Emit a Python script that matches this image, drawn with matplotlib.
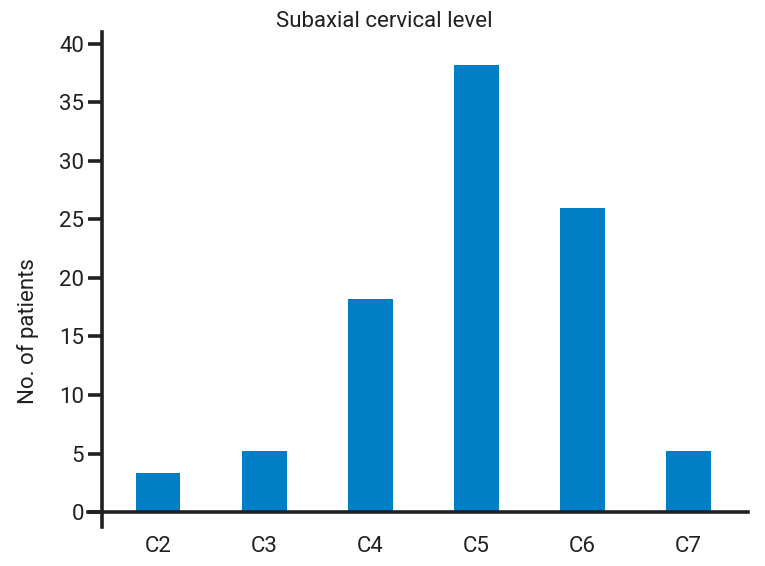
import matplotlib
matplotlib.use("Agg")
import matplotlib.pyplot as plt

levels = ["C2", "C3", "C4", "C5", "C6", "C7"]
patients = [3.3, 5.2, 18.2, 38.2, 26.0, 5.2]
yticks = [0, 5, 10, 15, 20, 25, 30, 35, 40]

plt.rcParams["font.family"] = ["Roboto", "DejaVu Sans"]

ink = "#231f20"
blue = "#007fc6"

fig = plt.figure(figsize=(7.65, 5.66), dpi=100)
ax = fig.add_axes([0.1333, 0.0685, 0.8445, 0.8745])

x = range(len(levels))
ax.bar(x, patients, width=0.42, color=blue, zorder=2)

ax.set_xlim(-0.53, 5.56)
ax.set_ylim(-1.3, 41)
ax.set_yticks(yticks)
ax.set_xticks(list(x))
ax.set_xticklabels(levels)

for s in ["top", "right"]:
    ax.spines[s].set_visible(False)
# x axis sits at zero and pokes out left of the y axis
ax.spines["bottom"].set_position(("data", 0))
ax.spines["bottom"].set_bounds(-0.66, 5.56)
for s in ["left", "bottom"]:
    ax.spines[s].set_linewidth(2.6)
    ax.spines[s].set_color(ink)
    ax.spines[s].set_zorder(3)

ax.tick_params(axis="y", length=10, width=2.6, color=ink, labelsize=16, labelcolor=ink, pad=3)
ax.tick_params(axis="x", length=0, labelsize=16, labelcolor=ink, pad=17)

fig.text(0.502, 0.962, "Subaxial cervical level", ha="center", va="center", fontsize=16, color=ink)
fig.text(0.036, 0.415, "No. of patients", ha="center", va="center", rotation=90, fontsize=16, color=ink)

fig.savefig("out.png", dpi=100)
